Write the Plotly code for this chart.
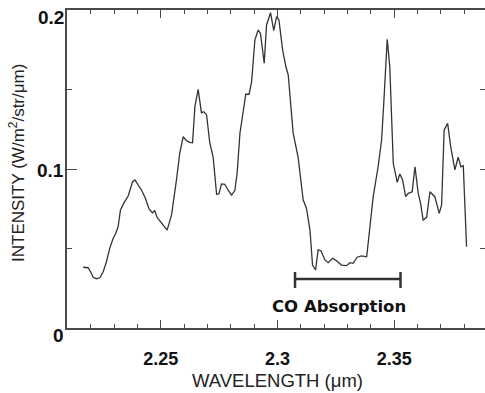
import plotly.graph_objects as go

wavelength = [2.2167, 2.2188, 2.2199, 2.2210, 2.2224, 2.2239, 2.2253, 2.2267, 2.2281, 2.2296,
              2.2307, 2.2317, 2.2327, 2.2341, 2.2360, 2.2370, 2.2379, 2.2389, 2.2398, 2.2417,
              2.2434, 2.2450, 2.2464, 2.2474, 2.2484, 2.2496, 2.2510, 2.2527, 2.2546, 2.2556,
              2.2567, 2.2581, 2.2596, 2.2610, 2.2624, 2.2636, 2.2646, 2.2660, 2.2674, 2.2684,
              2.2696, 2.2710, 2.2724, 2.2739, 2.2749, 2.2760, 2.2774, 2.2788, 2.2803, 2.2817,
              2.2827, 2.2839, 2.2853, 2.2864, 2.2878, 2.2889, 2.2903, 2.2917, 2.2927, 2.2943,
              2.2953, 2.2970, 2.2984, 2.2996, 2.3006, 2.3022, 2.3036, 2.3046, 2.3067, 2.3088,
              2.3110, 2.3124, 2.3139, 2.3150, 2.3163, 2.3174, 2.3186, 2.3203, 2.3217, 2.3236,
              2.3253, 2.3274, 2.3296, 2.3310, 2.3324, 2.3341, 2.3360, 2.3382, 2.3396, 2.3410,
              2.3431, 2.3446, 2.3456, 2.3470, 2.3481, 2.3496, 2.3513, 2.3524, 2.3536, 2.3549,
              2.3560, 2.3577, 2.3589, 2.3603, 2.3613, 2.3624, 2.3639, 2.3653, 2.3674, 2.3693,
              2.3703, 2.3714, 2.3729, 2.3742, 2.3760, 2.3774, 2.3786, 2.3796, 2.3810]
intensity = [0.0382, 0.0379, 0.0354, 0.0319, 0.0310, 0.0316, 0.0354, 0.0417, 0.0501, 0.0564,
             0.0596, 0.0637, 0.0742, 0.0784, 0.0830, 0.0872, 0.0920, 0.0931, 0.0910, 0.0868,
             0.0816, 0.0747, 0.0725, 0.0738, 0.0696, 0.0673, 0.0652, 0.0616, 0.0711, 0.0805,
             0.0931, 0.1099, 0.1203, 0.1178, 0.1168, 0.1165, 0.1392, 0.1501, 0.1354, 0.1360,
             0.1340, 0.1162, 0.1077, 0.0841, 0.0843, 0.0906, 0.0904, 0.0868, 0.0836, 0.0864,
             0.0973, 0.1225, 0.1350, 0.1470, 0.1470, 0.1549, 0.1811, 0.1874, 0.1853, 0.1665,
             0.1906, 0.1983, 0.1870, 0.1958, 0.1937, 0.1748, 0.1643, 0.1591, 0.1225, 0.1077,
             0.0805, 0.0753, 0.0616, 0.0396, 0.0365, 0.0491, 0.0486, 0.0428, 0.0411, 0.0438,
             0.0423, 0.0396, 0.0392, 0.0411, 0.0407, 0.0445, 0.0453, 0.0448, 0.0637, 0.0826,
             0.1014, 0.1182, 0.1434, 0.1816, 0.1643, 0.1036, 0.0916, 0.0969, 0.0931, 0.0826,
             0.0847, 0.0857, 0.1014, 0.0847, 0.0784, 0.0679, 0.0696, 0.0857, 0.0826, 0.0721,
             0.0774, 0.1245, 0.1287, 0.1140, 0.0994, 0.1074, 0.1014, 0.1021, 0.0511]

x_tickvals = [2.25, 2.3, 2.35]
x_ticktext = ["2.25", "2.3", "2.35"]
y_tickvals = [0, 0.1, 0.2]
y_ticktext = ["0", "0.1", "0.2"]
y_minor = [0.05, 0.1, 0.15]

co_band = [2.3075, 2.3527]
co_level = 0.0308
co_cap = [0.0252, 0.0352]
co_label = "CO Absorption"

x_range = [2.2098, 2.3889]
y_range = [0, 0.2]

INK = "#333333"
AXIS = "#4a4a4a"

fig = go.Figure()
fig.add_trace(go.Scatter(x=wavelength, y=intensity, mode="lines",
                         line=dict(color=INK, width=1.3), showlegend=False, hoverinfo="skip"))
fig.add_trace(go.Scatter(x=[x_range[0]], y=[None], yaxis="y2", mode="lines",
                         showlegend=False, hoverinfo="skip"))

# CO absorption bar
fig.add_shape(type="line", x0=co_band[0], x1=co_band[1], y0=co_level, y1=co_level,
              line=dict(color=INK, width=2.5), xref="x", yref="y")
for xb in co_band:
    fig.add_shape(type="line", x0=xb, x1=xb, y0=co_cap[0], y1=co_cap[1],
                  line=dict(color=INK, width=2.5), xref="x", yref="y")
fig.add_annotation(x=sum(co_band) / 2 - 0.0038, y=0.0138, xref="x", yref="y", text=co_label,
                   showarrow=False, font=dict(family="DejaVu Sans", size=16.5, color="#111111", weight="bold"))

# y tick labels
for v, t, ys in zip(y_tickvals, y_ticktext, [-7, -1, -7]):
    fig.add_annotation(x=0, y=v, xref="paper", yref="y", text=t, showarrow=False,
                       xanchor="right", yanchor="middle", xshift=-1, yshift=ys,
                       font=dict(family="Liberation Sans, Arial", size=19, color="#111111", weight="bold"))

# axis titles
fig.add_annotation(x=2.3, y=0, xref="x", yref="paper", text="WAVELENGTH (μm)", showarrow=False,
                   xanchor="center", yanchor="middle", yshift=-52,
                   font=dict(family="Liberation Sans, Arial", size=18.5, color="#222222"))
fig.add_annotation(x=0, y=0.1, xref="paper", yref="y", text="INTENSITY (W/m<sup>2</sup>/str/μm)",
                   showarrow=False, textangle=-90, xanchor="center", yanchor="middle",
                   xshift=-50, yshift=6,
                   font=dict(family="Liberation Sans, Arial", size=17, color="#222222"))

fig.update_layout(
    width=485, height=393,
    margin=dict(l=67, r=0, t=10, b=65),
    paper_bgcolor="white", plot_bgcolor="white",
    xaxis=dict(range=x_range, showgrid=False, zeroline=False,
               showline=True, linecolor=AXIS, linewidth=1.5, mirror="ticks",
               ticks="inside", ticklen=8, tickwidth=1.2, tickcolor=AXIS,
               tickvals=x_tickvals, ticktext=x_ticktext, ticklabelstandoff=14,
               tickfont=dict(family="Liberation Sans, Arial", size=18, color="#111111", weight="bold"),
               minor=dict(ticks="inside", ticklen=4, dtick=0.01, tick0=2.2, tickcolor=AXIS, tickwidth=1.2)),
    yaxis=dict(range=y_range, showgrid=False, zeroline=False,
               showline=True, linecolor=AXIS, linewidth=1.5, mirror=False,
               ticks="inside", ticklen=10, tickwidth=1.2, tickcolor=AXIS,
               tickvals=y_tickvals, showticklabels=False,
               minor=dict(ticks="inside", ticklen=5, tickvals=[0.05, 0.15], tickcolor=AXIS, tickwidth=1.2)),
    yaxis2=dict(range=y_range, overlaying="y", side="right", showgrid=False, zeroline=False,
                showline=False, ticks="inside", ticklen=5, tickwidth=1.2, tickcolor=AXIS,
                tickvals=y_minor, showticklabels=False),
)

fig.write_html("out.html", config={"displayModeBar": False},
               post_script="document.body.style.margin='0';document.body.style.overflow='hidden';")
